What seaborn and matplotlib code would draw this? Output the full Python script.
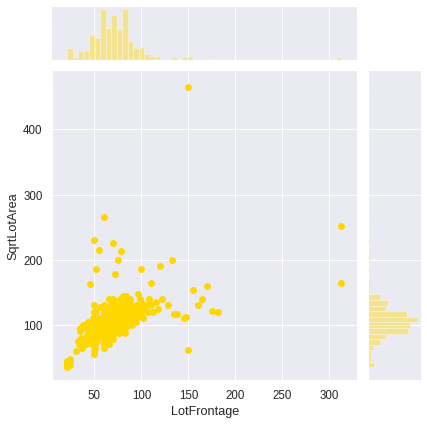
import matplotlib
matplotlib.use("Agg")
import matplotlib.pyplot as plt
import seaborn as sns
import numpy as np

sns.set(style="darkgrid", font="Liberation Sans", font_scale=1.05)

# main cluster, per histogram bin
lot_frontage = [
    21, 21, 21, 24, 24, 21, 24, 21,
    30, 32,
    34, 35, 36, 37, 38, 35,
    40, 40, 42, 43, 44, 41, 40,
    45, 47, 48, 50, 50, 50, 48, 46, 49, 50, 47, 45, 50, 48, 50,
    51, 52, 53, 55, 55, 51, 52, 54, 55, 53, 56, 51, 55,
    57, 58, 59, 60, 60, 60, 60, 60, 60, 60, 60, 60, 60, 60, 60, 60, 60, 60, 60, 60, 60, 60,
    61, 62, 60, 59, 58, 57, 60, 60, 60, 60, 60, 60, 62, 61,
    63, 64, 65, 65, 65, 65, 65, 65, 64, 66, 67, 68, 68, 65, 65, 63, 66, 67, 68, 64, 65, 65, 66,
    69, 70, 70, 70, 70, 70, 70, 70, 70, 70, 70, 70, 71, 72, 72, 73, 74, 74, 70, 70, 70, 69, 71,
    72, 73, 70, 70, 74, 70,
    75, 75, 75, 75, 75, 76, 77, 78, 78, 78, 79, 80, 80, 80, 80, 80, 80, 80, 80, 76, 77, 79, 75,
    78, 80, 80,
    81, 82, 82, 83, 84, 85, 85, 85, 85, 85, 85, 86, 82, 83, 84, 85, 81, 84, 85, 86, 82, 83, 85,
    84, 86, 81, 85, 84,
    87, 88, 89, 90, 90, 90, 91, 92, 88, 90, 89,
    93, 94, 95, 96, 95, 94, 96, 97,
    98, 100, 100, 101, 102, 99, 100,
    104, 105, 107, 108,
    110, 112, 116, 118, 122, 128,
    # outliers
    150, 60, 50, 70, 55, 78, 75, 52, 100, 120, 133, 45, 72, 110, 155, 170, 175, 182, 160,
    135, 138, 145, 150, 313, 313, 147, 165,
]
sqrt_lot_area = [
    35, 40, 42, 45, 38, 44, 48, 37,
    60, 75,
    70, 90, 80, 65, 100, 95,
    75, 95, 85, 105, 90, 70, 80,
    95, 80, 110, 90, 100, 60, 85, 75, 120, 105, 70, 88, 130, 98, 55,
    90, 100, 75, 110, 95, 65, 120, 85, 105, 80, 128, 70, 92,
    85, 95, 100, 88, 92, 97, 102, 105, 108, 110, 90, 93, 96, 99, 101, 115, 120, 80, 75, 70, 65, 125,
    98, 104, 130, 86, 94, 110, 100, 95, 89, 112, 118, 78, 92, 84,
    90, 100, 95, 105, 110, 85, 98, 92, 115, 120, 88, 102, 96, 70, 125, 80, 108, 112, 130, 94, 97, 100, 140,
    100, 95, 105, 110, 115, 98, 92, 88, 120, 125, 102, 107, 96, 112, 100, 118, 108, 130, 85, 78, 135, 94, 104,
    99, 122, 140, 90, 113, 101,
    105, 98, 110, 115, 120, 100, 108, 112, 95, 125, 102, 100, 110, 118, 105, 90, 130, 122, 135, 88, 140, 115, 92,
    107, 145, 98,
    105, 110, 100, 115, 120, 112, 108, 125, 98, 130, 103, 118, 95, 140, 107, 116, 122, 102, 135, 110, 88, 126, 100,
    145, 113, 97, 119, 104,
    115, 110, 120, 105, 125, 130, 112, 118, 140, 100, 108,
    120, 110, 125, 115, 130, 105, 148, 118,
    120, 115, 130, 125, 110, 140, 135,
    125, 130, 120, 140,
    130, 120, 135, 125, 140, 130,
    465, 265, 230, 225, 215, 213, 200, 185, 185, 190, 200, 162, 178, 165, 153, 160, 122, 120, 130,
    117, 117, 110, 62, 252, 165, 112, 140,
]

g = sns.JointGrid(x=np.array(lot_frontage), y=np.array(sqrt_lot_area), height=5.85, ratio=5, space=0.2)
g.ax_joint.scatter(lot_frontage, sqrt_lot_area, color="gold", s=48, linewidths=0)
g.ax_marg_x.hist(lot_frontage, bins=50, color="gold", alpha=0.4, edgecolor="white", linewidth=0.8)
g.ax_marg_y.hist(sqrt_lot_area, bins=50, color="gold", alpha=0.4, edgecolor="white", linewidth=0.8,
                 orientation="horizontal")
g.ax_joint.set_xlabel("LotFrontage")
g.ax_joint.set_ylabel("SqrtLotArea")
g.ax_joint.set_xlim(5, 330)
g.ax_joint.set_ylim(15, 490)

g.figure.savefig("out.png", dpi=72, bbox_inches="tight")
